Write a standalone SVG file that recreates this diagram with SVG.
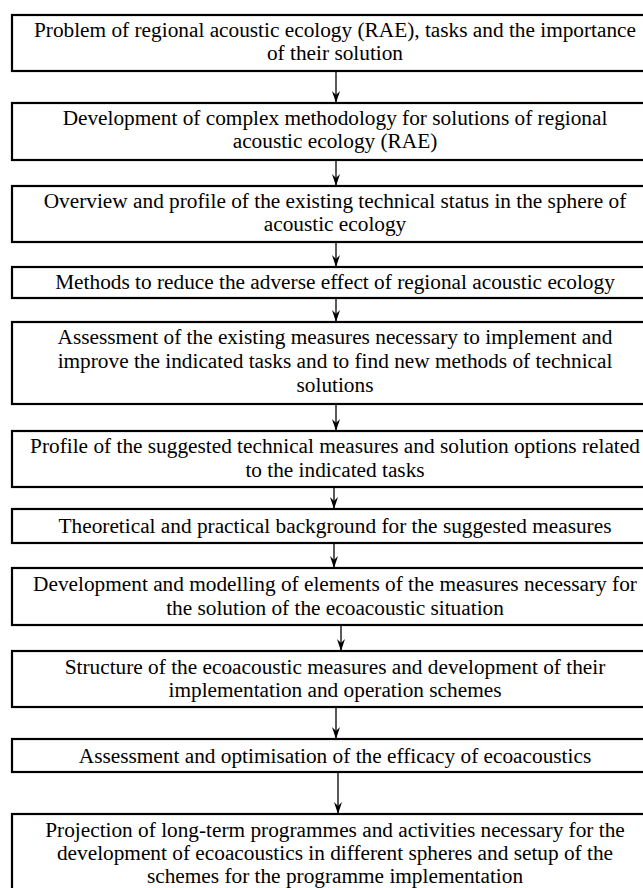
<svg xmlns="http://www.w3.org/2000/svg" width="643" height="888" viewBox="0 0 643 888">
<defs>
<marker id="ah" markerWidth="12" markerHeight="8" refX="12" refY="4" orient="auto" markerUnits="userSpaceOnUse" viewBox="0 0 12 8">
<path d="M0,0 L12,4 L0,8 L4,4 Z" fill="#000"/>
</marker>
<style>
.box{fill:#fff;stroke:#000;stroke-width:2.2}
.c{stroke:#000;stroke-width:1.3;fill:none;marker-end:url(#ah)}
text{font-family:"Liberation Serif","Times New Roman",serif;font-size:21.3px;fill:#000;text-anchor:middle}
</style>
</defs>
<rect width="643" height="888" fill="#fff"/>
<g id="connectors">
<line class="c" x1="336" y1="71" x2="336" y2="103"/>
<line class="c" x1="336" y1="160" x2="336" y2="186"/>
<line class="c" x1="336" y1="242" x2="336" y2="267"/>
<line class="c" x1="336" y1="298" x2="336" y2="322"/>
<line class="c" x1="336" y1="404" x2="336" y2="431"/>
<line class="c" x1="334" y1="487" x2="334" y2="509"/>
<line class="c" x1="334" y1="543" x2="334" y2="568"/>
<line class="c" x1="341" y1="625" x2="341" y2="651"/>
<line class="c" x1="336" y1="707" x2="336" y2="739"/>
<line class="c" x1="338" y1="772" x2="338" y2="814"/>
</g>
<g id="n1"><rect class="box" x="12" y="15" width="640" height="56"/>
<text x="335" y="37">Problem of regional acoustic ecology (RAE), tasks and the importance</text>
<text x="335" y="60">of their solution</text></g>
<g id="n2"><rect class="box" x="12" y="103" width="640" height="57"/>
<text x="335" y="125">Development of complex methodology for solutions of regional</text>
<text x="335" y="148">acoustic ecology (RAE)</text></g>
<g id="n3"><rect class="box" x="12" y="186" width="640" height="56"/>
<text x="335" y="208">Overview and profile of the existing technical status in the sphere of</text>
<text x="335" y="231">acoustic ecology</text></g>
<g id="n4"><rect class="box" x="12" y="267" width="640" height="31"/>
<text x="335" y="289">Methods to reduce the adverse effect of regional acoustic ecology</text></g>
<g id="n5"><rect class="box" x="12" y="322" width="640" height="82"/>
<text x="335" y="344">Assessment of the existing measures necessary to implement and</text>
<text x="335" y="368">improve the indicated tasks and to find new methods of technical</text>
<text x="335" y="392">solutions</text></g>
<g id="n6"><rect class="box" x="12" y="431" width="640" height="56"/>
<text x="335" y="453">Profile of the suggested technical measures and solution options related</text>
<text x="335" y="477">to the indicated tasks</text></g>
<g id="n7"><rect class="box" x="12" y="509" width="640" height="34"/>
<text x="335" y="533">Theoretical and practical background for the suggested measures</text></g>
<g id="n8"><rect class="box" x="12" y="568" width="640" height="57"/>
<text x="335" y="591">Development and modelling of elements of the measures necessary for</text>
<text x="335" y="615">the solution of the ecoacoustic situation</text></g>
<g id="n9"><rect class="box" x="12" y="651" width="640" height="56"/>
<text x="335" y="674">Structure of the ecoacoustic measures and development of their</text>
<text x="335" y="697">implementation and operation schemes</text></g>
<g id="n10"><rect class="box" x="12" y="739" width="640" height="33"/>
<text x="335" y="763">Assessment and optimisation of the efficacy of ecoacoustics</text></g>
<g id="n11"><rect class="box" x="12" y="814" width="640" height="90"/>
<text x="335" y="837">Projection of long-term programmes and activities necessary for the</text>
<text x="335" y="860">development of ecoacoustics in different spheres and setup of the</text>
<text x="335" y="883">schemes for the programme implementation</text></g>
</svg>
